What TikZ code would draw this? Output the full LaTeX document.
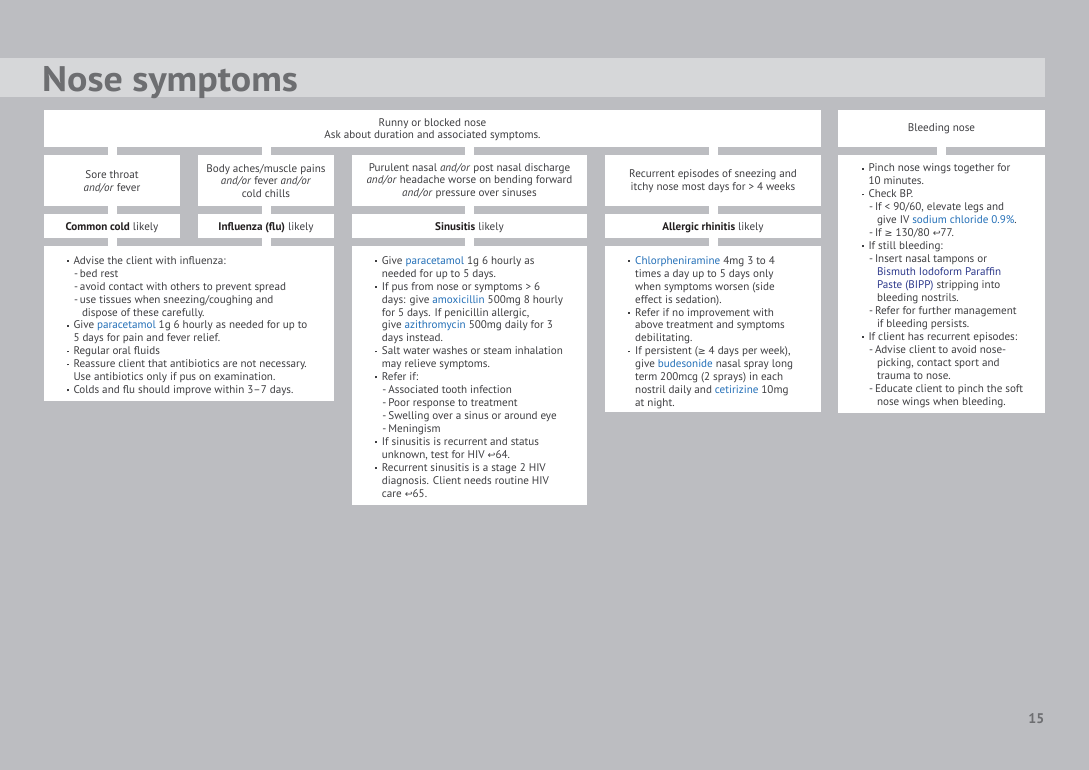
\documentclass[tikz,border=0pt]{standalone}
\usepackage{fontspec}
\usepackage{graphicx}
\setmainfont{PT Sans}
\newfontfamily\symfont{DejaVu Sans}
\definecolor{bgc}{RGB}{188,189,193}
\definecolor{bandc}{RGB}{214,215,217}
\definecolor{txtc}{RGB}{62,62,65}
\definecolor{titlec}{RGB}{109,110,113}
\definecolor{drugc}{RGB}{36,112,184}
\definecolor{bippc}{RGB}{46,58,140}
\definecolor{boldc}{RGB}{35,31,32}
\newcommand\mybody{\fontsize{11.1}{12.95}\selectfont}
\newcommand\myhdr{\fontsize{11.1}{12.6}\selectfont}
\newcommand\bul{\llap{\raisebox{2.4pt}{\rule{1.9pt}{1.9pt}}\hspace{5pt}}}
\newcommand\sub{\hspace*{0.5pt}-\hspace{2pt}}
\newcommand\subc{\hspace*{8.5pt}}
\newcommand\drug[1]{\textcolor{drugc}{#1}}
\newcommand\bipp[1]{\textcolor{bippc}{#1}}
\newcommand\pref{{\symfont\scalebox{0.85}{↩}}}
\newcommand\mygeq{{\symfont\scalebox{0.85}{≥}}}
\newcommand\dx[1]{\textcolor{boldc}{\textbf{#1}}}
\newcommand\fst{\rule{0pt}{9pt}}
\begin{document}
\begin{tikzpicture}[x=1pt,y=-1pt,
  box/.style={fill=white, draw=none, inner sep=0pt, outer sep=0pt, anchor=north west},
  conn/.style={draw=white, line width=9pt},
  hdr/.style={align=center, inner sep=0pt, text=txtc, font=\myhdr},
  body/.style={align=left, inner sep=0pt, anchor=north west, text=txtc, font=\mybody},
  title/.style={anchor=base west, inner sep=0pt, text=titlec, font=\fontsize{35.5}{40}\selectfont\bfseries}
]
\useasboundingbox (0,0) rectangle (1089,770);
\fill[bgc] (0,0) rectangle (1089,770);
\fill[bandc] (0,58) rectangle (1045,97);
\node[title] (title) at (42,91.5) {\scalebox{1.07}[1]{Nose symptoms}};

% boxes
\node[box, minimum width=777pt, minimum height=37pt] (top) at (44,110) {};
\node[box, minimum width=207pt, minimum height=37pt] (bleed) at (838,110) {};
\node[box, minimum width=136pt, minimum height=51pt] (s1) at (44,155) {};
\node[box, minimum width=136pt, minimum height=51pt] (s2) at (198,155) {};
\node[box, minimum width=235pt, minimum height=51pt] (s3) at (352,155) {};
\node[box, minimum width=216pt, minimum height=51pt] (s4) at (605,155) {};
\node[box, minimum width=136pt, minimum height=24pt] (d1) at (44,214) {};
\node[box, minimum width=136pt, minimum height=24pt] (d2) at (198,214) {};
\node[box, minimum width=235pt, minimum height=24pt] (d3) at (352,214) {};
\node[box, minimum width=216pt, minimum height=24pt] (d4) at (605,214) {};
\node[box, minimum width=290pt, minimum height=155pt] (t12) at (44,246) {};
\node[box, minimum width=235pt, minimum height=259pt] (t3) at (352,246) {};
\node[box, minimum width=216pt, minimum height=166pt] (t4) at (605,246) {};
\node[box, minimum width=207pt, minimum height=258pt] (t5) at (838,155) {};

% connectors
\foreach \s in {s1,s2,s3,s4} \draw[conn] (top.south -| \s.north) -- (\s.north);
\draw[conn] (s1.south) -- (d1.north);
\draw[conn] (s2.south) -- (d2.north);
\draw[conn] (s3.south) -- (d3.north);
\draw[conn] (s4.south) -- (d4.north);
\draw[conn] (d1.south) -- (d1.south |- t12.north);
\draw[conn] (d2.south) -- (d2.south |- t12.north);
\draw[conn] (d3.south) -- (t3.north);
\draw[conn] (d4.south) -- (t4.north);
\draw[conn] (bleed.south) -- (t5.north);

% header texts
\node[hdr] (toptxt) at ([yshift=-1.2pt]top.center) {Runny or blocked nose\\Ask about duration and associated symptoms.};
\node[hdr] (bleedtxt) at ([yshift=-0.5pt]bleed.center) {Bleeding nose};
\node[hdr] (s1txt) at ([yshift=-1.5pt]s1.center) {Sore throat\\\textit{and/or} fever};
\node[hdr] (s2txt) at ([yshift=-0.5pt]s2.center) {Body aches/muscle pains\\\textit{and/or} fever \textit{and/or}\\cold chills};
\node[hdr] (s3txt) at ([yshift=-0.5pt]s3.center) {Purulent nasal \textit{and/or} post nasal discharge\\\textit{and/or} headache worse on bending forward\\\textit{and/or} pressure over sinuses};
\node[hdr] (s4txt) at ([yshift=-1pt]s4.center) {Recurrent episodes of sneezing and\\itchy nose most days for > 4 weeks};
\node[hdr, anchor=base] (d1txt) at ([yshift=-4.5pt]d1.center) {\dx{Common cold} likely};
\node[hdr, anchor=base] (d2txt) at ([yshift=-4.5pt]d2.center) {\dx{Influenza (flu)} likely};
\node[hdr, anchor=base] (d3txt) at ([yshift=-4.5pt]d3.center) {\dx{Sinusitis} likely};
\node[hdr, anchor=base] (d4txt) at ([yshift=-4.5pt]d4.center) {\dx{Allergic rhinitis} likely};

% body texts
\node[body] (t12txt) at (73.3,255) {\fst\bul Advise the client with influenza:\\
\sub bed rest\\
\sub avoid contact with others to prevent spread\\
\sub use tissues when sneezing/coughing and\\
\subc dispose of these carefully.\\
\bul Give \drug{paracetamol} 1g 6 hourly as needed for up to\\
5 days for pain and fever relief.\\
\bul Regular oral fluids\\
\bul Reassure client that antibiotics are not necessary.\\
Use antibiotics only if pus on examination.\\
\bul Colds and flu should improve within 3–7 days.};

\node[body] (t3txt) at (381.7,255) {\fst\bul Give \drug{paracetamol} 1g 6 hourly as\\
needed for up to 5 days.\\
\bul If pus from nose or symptoms > 6\\
days: give \drug{amoxicillin} 500mg 8 hourly\\
for 5 days. If penicillin allergic,\\
give \drug{azithromycin} 500mg daily for 3\\
days instead.\\
\bul Salt water washes or steam inhalation\\
may relieve symptoms.\\
\bul Refer if:\\
\sub Associated tooth infection\\
\sub Poor response to treatment\\
\sub Swelling over a sinus or around eye\\
\sub Meningism\\
\bul If sinusitis is recurrent and status\\
unknown, test for HIV \pref64.\\
\bul Recurrent sinusitis is a stage 2 HIV\\
diagnosis. Client needs routine HIV\\
care \pref65.};

\node[body] (t4txt) at (635,255) {\fst\bul \drug{Chlorpheniramine} 4mg 3 to 4\\
times a day up to 5 days only\\
when symptoms worsen (side\\
effect is sedation).\\
\bul Refer if no improvement with\\
above treatment and symptoms\\
debilitating.\\
\bul If persistent (\mygeq\ 4 days per week),\\
give \drug{budesonide} nasal spray long\\
term 200mcg (2 sprays) in each\\
nostril daily and \drug{cetirizine} 10mg\\
at night.};

\node[body] (t5txt) at (868.3,162.7) {\fst\bul Pinch nose wings together for\\
10 minutes.\\
\bul Check BP.\\
\sub If < 90/60, elevate legs and\\
\subc give IV \drug{sodium chloride 0.9\%}.\\
\sub If \mygeq\ 130/80 \pref77.\\
\bul If still bleeding:\\
\sub Insert nasal tampons or\\
\subc \bipp{Bismuth Iodoform Paraffin}\\
\subc \bipp{Paste (BIPP)} stripping into\\
\subc bleeding nostrils.\\
\sub Refer for further management\\
\subc if bleeding persists.\\
\bul If client has recurrent episodes:\\
\sub Advise client to avoid nose-\\
\subc picking, contact sport and\\
\subc trauma to nose.\\
\sub Educate client to pinch the soft\\
\subc nose wings when bleeding.};

\node[anchor=base east, inner sep=0pt, text=titlec, font=\fontsize{14}{16}\selectfont\bfseries] (pagenum) at (1044.5,723) {15};
\end{tikzpicture}
\end{document}
